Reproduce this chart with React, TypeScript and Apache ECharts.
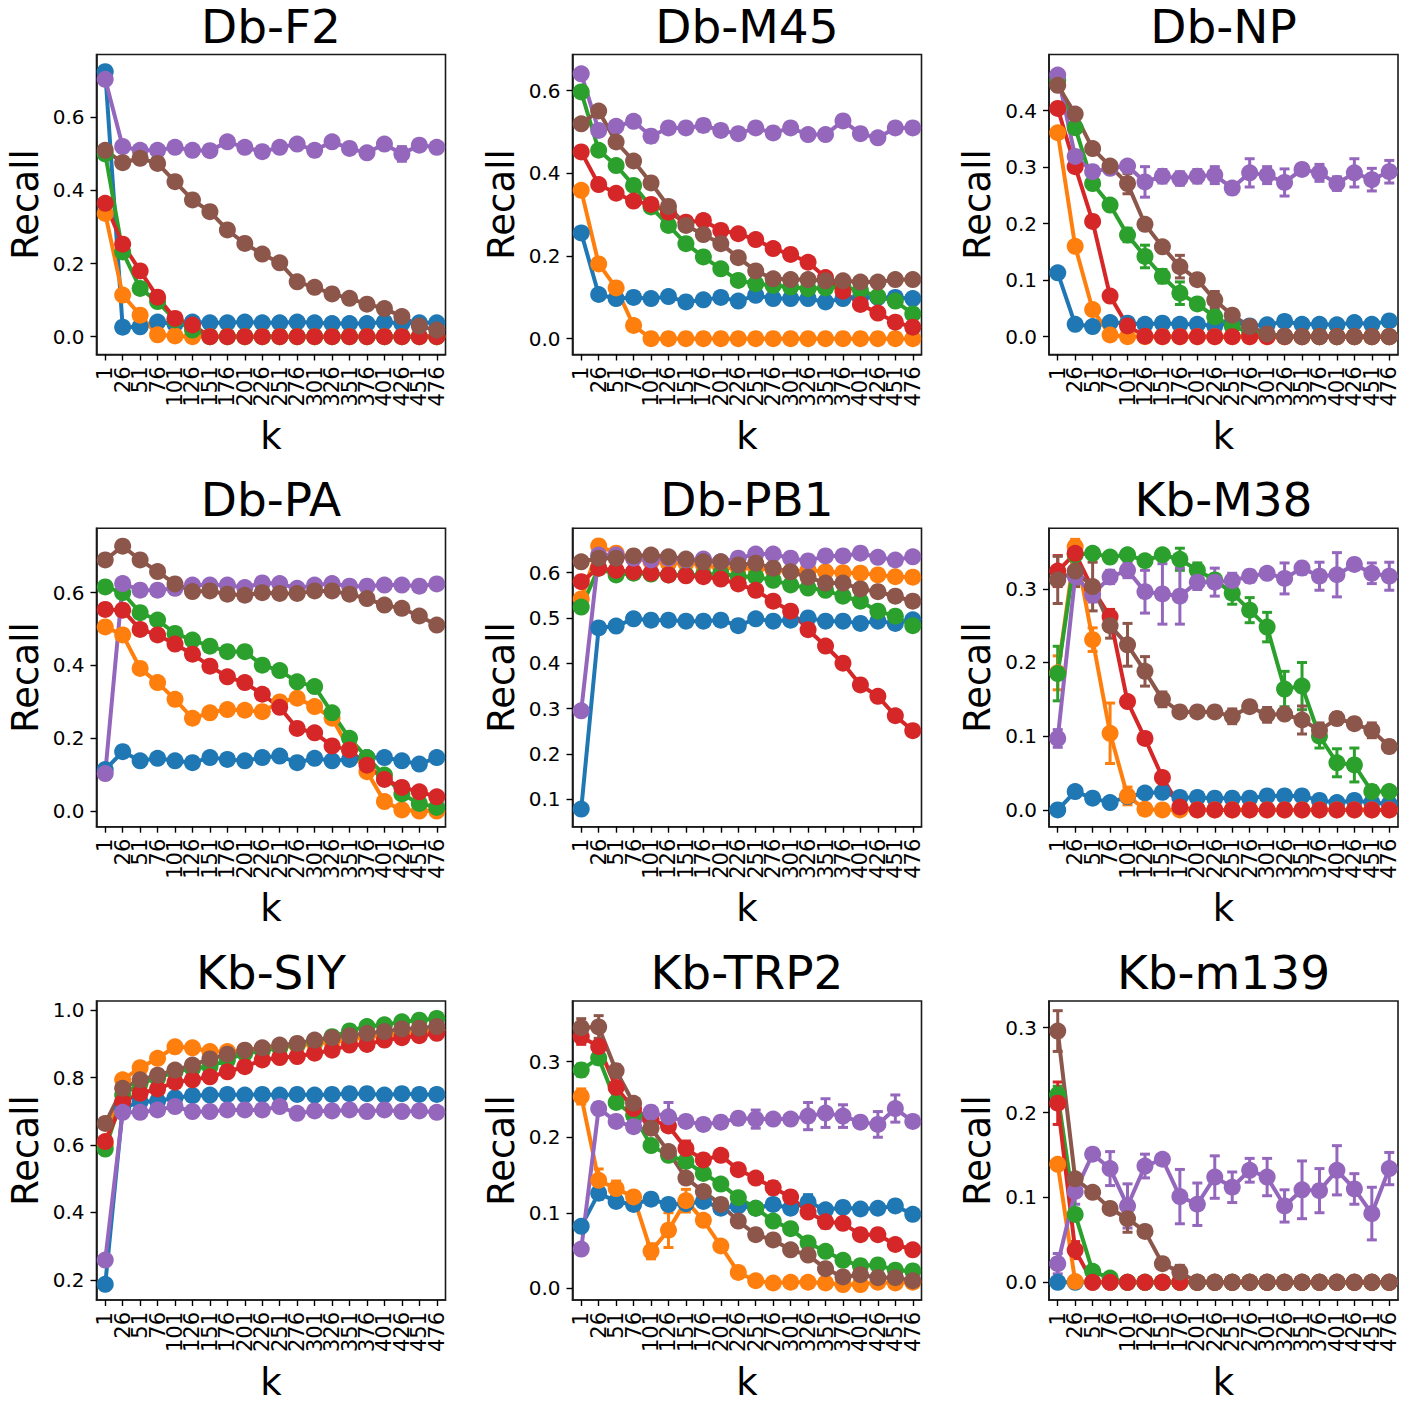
import React, { useEffect, useRef } from 'react';
import * as echarts from 'echarts';

const kValues = ['1', '26', '51', '76', '101', '126', '151', '176', '201', '226', '251', '276', '301', '326', '351', '376', '401', '426', '451', '476'];
const seriesColors = ['#1f77b4', '#ff7f0e', '#2ca02c', '#d62728', '#9467bd', '#8c564b'];
const panelTitles = ['Db-F2', 'Db-M45', 'Db-NP', 'Db-PA', 'Db-PB1', 'Kb-M38', 'Kb-SIY', 'Kb-TRP2', 'Kb-m139'];

// order of rows: blue, orange, green, red, purple, brown
const dbF2 = [
  [0.725, 0.026, 0.027, 0.04, 0.035, 0.04, 0.038, 0.038, 0.04, 0.038, 0.038, 0.04, 0.038, 0.036, 0.036, 0.036, 0.04, 0.036, 0.038, 0.038],
  [0.337, 0.114, 0.059, 0.005, 0.002, 0, 0, 0, 0, 0, 0, 0, 0, 0, 0, 0, 0, 0, 0, 0],
  [0.5, 0.232, 0.132, 0.096, 0.046, 0.018, 0, 0, 0, 0, 0, 0, 0, 0, 0, 0, 0, 0, 0, 0],
  [0.365, 0.253, 0.18, 0.108, 0.05, 0.032, 0, 0, 0, 0, 0, 0, 0, 0, 0, 0, 0, 0, 0, 0],
  [0.704, 0.52, 0.51, 0.51, 0.518, 0.51, 0.509, 0.533, 0.518, 0.506, 0.518, 0.527, 0.51, 0.533, 0.515, 0.503, 0.527, 0.5, 0.524, 0.518],
  [0.51, 0.476, 0.488, 0.474, 0.424, 0.374, 0.342, 0.292, 0.255, 0.226, 0.202, 0.15, 0.135, 0.117, 0.105, 0.089, 0.077, 0.055, 0.029, 0.018],
];
const dbM45 = [
  [0.256, 0.107, 0.097, 0.1, 0.097, 0.102, 0.089, 0.094, 0.1, 0.091, 0.105, 0.097, 0.097, 0.097, 0.089, 0.097, 0.1, 0.1, 0.1, 0.097],
  [0.359, 0.181, 0.123, 0.032, 0, 0, 0, 0, 0, 0, 0, 0, 0, 0, 0, 0, 0, 0, 0, 0],
  [0.597, 0.456, 0.419, 0.371, 0.319, 0.274, 0.23, 0.198, 0.169, 0.141, 0.133, 0.129, 0.125, 0.121, 0.123, 0.125, 0.117, 0.102, 0.091, 0.06],
  [0.452, 0.373, 0.352, 0.333, 0.325, 0.306, 0.282, 0.286, 0.262, 0.254, 0.24, 0.218, 0.204, 0.185, 0.148, 0.115, 0.083, 0.062, 0.04, 0.028],
  [0.641, 0.504, 0.514, 0.526, 0.49, 0.51, 0.51, 0.516, 0.504, 0.496, 0.51, 0.498, 0.51, 0.494, 0.494, 0.527, 0.496, 0.486, 0.51, 0.51],
  [0.52, 0.551, 0.476, 0.43, 0.377, 0.32, 0.274, 0.252, 0.23, 0.196, 0.164, 0.145, 0.143, 0.143, 0.14, 0.14, 0.137, 0.137, 0.143, 0.143],
];
const dbNP = [
  [0.113, 0.022, 0.018, 0.025, 0.024, 0.022, 0.024, 0.022, 0.022, 0.019, 0.025, 0.019, 0.021, 0.027, 0.022, 0.022, 0.021, 0.025, 0.022, 0.028],
  [0.361, 0.16, 0.048, 0.003, 0, 0, 0, 0, 0, 0, 0, 0, 0, 0, 0, 0, 0, 0, 0, 0],
  [0.454, 0.37, 0.271, 0.233, 0.18, 0.142, 0.107, 0.077, 0.058, 0.035, 0.019, 0.007, 0.002, 0, 0, 0, 0, 0, 0, 0],
  [0.404, 0.301, 0.204, 0.072, 0.019, 0.001, 0, 0, 0, 0, 0, 0, 0, 0, 0, 0, 0, 0, 0, 0],
  [0.463, 0.319, 0.292, 0.298, 0.302, 0.274, 0.284, 0.28, 0.284, 0.286, 0.263, 0.29, 0.286, 0.273, 0.296, 0.29, 0.271, 0.29, 0.278, 0.292],
  [0.445, 0.394, 0.333, 0.302, 0.271, 0.199, 0.159, 0.124, 0.101, 0.065, 0.038, 0.018, 0.005, 0.001, 0, 0, 0, 0, 0, 0],
];
const dbPA = [
  [0.114, 0.163, 0.138, 0.145, 0.138, 0.133, 0.147, 0.142, 0.138, 0.147, 0.151, 0.133, 0.145, 0.138, 0.142, 0.147, 0.147, 0.138, 0.129, 0.147],
  [0.506, 0.484, 0.392, 0.353, 0.307, 0.255, 0.27, 0.279, 0.277, 0.273, 0.3, 0.31, 0.287, 0.255, 0.17, 0.108, 0.026, 0.003, 0, 0],
  [0.616, 0.6, 0.545, 0.525, 0.488, 0.47, 0.453, 0.438, 0.438, 0.401, 0.386, 0.355, 0.342, 0.27, 0.2, 0.147, 0.099, 0.047, 0.021, 0.01],
  [0.554, 0.552, 0.499, 0.484, 0.459, 0.431, 0.398, 0.369, 0.353, 0.321, 0.285, 0.227, 0.215, 0.179, 0.168, 0.126, 0.087, 0.065, 0.053, 0.039],
  [0.103, 0.625, 0.607, 0.607, 0.612, 0.621, 0.621, 0.621, 0.614, 0.627, 0.625, 0.612, 0.621, 0.625, 0.618, 0.618, 0.621, 0.621, 0.618, 0.624],
  [0.69, 0.728, 0.69, 0.658, 0.624, 0.603, 0.605, 0.596, 0.593, 0.6, 0.598, 0.598, 0.605, 0.605, 0.596, 0.584, 0.566, 0.557, 0.536, 0.511],
];
const dbPB1 = [
  [0.078, 0.478, 0.482, 0.498, 0.495, 0.495, 0.493, 0.493, 0.495, 0.483, 0.498, 0.493, 0.495, 0.5, 0.493, 0.493, 0.488, 0.493, 0.488, 0.496],
  [0.542, 0.659, 0.643, 0.632, 0.624, 0.621, 0.621, 0.617, 0.61, 0.61, 0.61, 0.606, 0.602, 0.606, 0.602, 0.6, 0.599, 0.595, 0.591, 0.59],
  [0.524, 0.61, 0.595, 0.599, 0.597, 0.595, 0.595, 0.595, 0.599, 0.591, 0.591, 0.583, 0.573, 0.566, 0.561, 0.548, 0.537, 0.515, 0.504, 0.483],
  [0.58, 0.61, 0.605, 0.602, 0.599, 0.595, 0.593, 0.591, 0.586, 0.575, 0.561, 0.537, 0.515, 0.474, 0.438, 0.4, 0.352, 0.327, 0.284, 0.251],
  [0.295, 0.639, 0.639, 0.632, 0.628, 0.632, 0.628, 0.63, 0.624, 0.632, 0.641, 0.641, 0.632, 0.626, 0.637, 0.637, 0.643, 0.634, 0.628, 0.635],
  [0.624, 0.632, 0.632, 0.637, 0.639, 0.635, 0.63, 0.624, 0.624, 0.617, 0.621, 0.61, 0.602, 0.59, 0.577, 0.577, 0.564, 0.558, 0.548, 0.537],
];
const kbM38 = [
  [0, 0.025, 0.016, 0.01, 0.018, 0.023, 0.024, 0.017, 0.017, 0.016, 0.016, 0.016, 0.019, 0.019, 0.019, 0.013, 0.01, 0.013, 0.01, 0.008],
  [0.186, 0.357, 0.231, 0.104, 0.019, 0.001, 0, 0, 0, 0, 0, 0, 0, 0, 0, 0, 0, 0, 0, 0],
  [0.185, 0.346, 0.348, 0.343, 0.346, 0.338, 0.346, 0.34, 0.325, 0.312, 0.294, 0.271, 0.248, 0.164, 0.168, 0.1, 0.064, 0.061, 0.025, 0.025],
  [0.324, 0.348, 0.3, 0.262, 0.147, 0.097, 0.044, 0.004, 0, 0, 0, 0, 0, 0, 0, 0, 0, 0, 0, 0],
  [0.097, 0.317, 0.292, 0.316, 0.325, 0.296, 0.293, 0.29, 0.309, 0.309, 0.311, 0.317, 0.321, 0.314, 0.328, 0.317, 0.319, 0.333, 0.321, 0.317],
  [0.312, 0.324, 0.303, 0.25, 0.224, 0.188, 0.15, 0.133, 0.133, 0.133, 0.127, 0.14, 0.129, 0.13, 0.122, 0.108, 0.124, 0.117, 0.108, 0.086],
];
const kbSIY = [
  [0.187, 0.709, 0.728, 0.73, 0.74, 0.746, 0.748, 0.75, 0.748, 0.75, 0.748, 0.75, 0.748, 0.75, 0.752, 0.752, 0.748, 0.752, 0.75, 0.75],
  [0.6, 0.793, 0.829, 0.857, 0.891, 0.888, 0.877, 0.877, 0.88, 0.885, 0.89, 0.895, 0.9, 0.905, 0.912, 0.92, 0.925, 0.93, 0.935, 0.94],
  [0.588, 0.748, 0.783, 0.798, 0.817, 0.827, 0.832, 0.852, 0.872, 0.879, 0.888, 0.898, 0.908, 0.921, 0.938, 0.951, 0.956, 0.965, 0.97, 0.975],
  [0.61, 0.728, 0.753, 0.766, 0.786, 0.793, 0.802, 0.817, 0.832, 0.852, 0.859, 0.862, 0.872, 0.881, 0.896, 0.898, 0.911, 0.918, 0.924, 0.931],
  [0.259, 0.697, 0.697, 0.704, 0.714, 0.699, 0.699, 0.704, 0.704, 0.704, 0.714, 0.694, 0.701, 0.701, 0.704, 0.699, 0.704, 0.699, 0.701, 0.697],
  [0.664, 0.768, 0.793, 0.807, 0.822, 0.837, 0.855, 0.869, 0.881, 0.888, 0.896, 0.901, 0.911, 0.918, 0.924, 0.931, 0.936, 0.944, 0.946, 0.951],
];
const kbTRP2 = [
  [0.082, 0.126, 0.115, 0.111, 0.118, 0.111, 0.112, 0.115, 0.106, 0.109, 0.106, 0.111, 0.106, 0.114, 0.104, 0.107, 0.105, 0.106, 0.109, 0.098],
  [0.254, 0.143, 0.132, 0.121, 0.049, 0.077, 0.116, 0.09, 0.056, 0.021, 0.01, 0.007, 0.008, 0.008, 0.007, 0.005, 0.005, 0.008, 0.007, 0.008],
  [0.289, 0.305, 0.246, 0.229, 0.189, 0.176, 0.168, 0.152, 0.138, 0.12, 0.106, 0.089, 0.079, 0.06, 0.049, 0.037, 0.03, 0.031, 0.024, 0.023],
  [0.333, 0.32, 0.266, 0.238, 0.223, 0.215, 0.185, 0.17, 0.176, 0.157, 0.146, 0.133, 0.121, 0.101, 0.088, 0.086, 0.071, 0.071, 0.058, 0.051],
  [0.052, 0.238, 0.221, 0.214, 0.233, 0.227, 0.221, 0.217, 0.22, 0.225, 0.224, 0.224, 0.224, 0.228, 0.232, 0.228, 0.22, 0.217, 0.238, 0.221],
  [0.345, 0.346, 0.288, 0.245, 0.212, 0.181, 0.146, 0.128, 0.111, 0.089, 0.071, 0.064, 0.051, 0.044, 0.026, 0.015, 0.018, 0.014, 0.014, 0.01],
];
const kbM139 = [
  [0, 0, 0, 0, 0, 0, 0, 0, 0, 0, 0, 0, 0, 0, 0, 0, 0, 0, 0, 0],
  [0.139, 0.001, 0, 0, 0, 0, 0, 0, 0, 0, 0, 0, 0, 0, 0, 0, 0, 0, 0, 0],
  [0.221, 0.08, 0.013, 0.005, 0, 0, 0, 0, 0, 0, 0, 0, 0, 0, 0, 0, 0, 0, 0, 0],
  [0.211, 0.038, 0, 0, 0, 0, 0, 0, 0, 0, 0, 0, 0, 0, 0, 0, 0, 0, 0, 0],
  [0.022, 0.107, 0.151, 0.134, 0.09, 0.137, 0.145, 0.101, 0.092, 0.124, 0.112, 0.132, 0.124, 0.09, 0.109, 0.108, 0.132, 0.11, 0.081, 0.134],
  [0.296, 0.122, 0.106, 0.087, 0.075, 0.06, 0.022, 0.012, 0, 0, 0, 0, 0, 0, 0, 0, 0, 0, 0, 0],
];

// error bar half-lengths (null = none visible)
const dbF2Err = [
  null, null, null, null,
  [0, 0, 0.008, 0, 0, 0, 0, 0.012, 0, 0.01, 0, 0.008, 0.015, 0.01, 0.012, 0, 0.012, 0.02, 0, 0.006],
  [0, 0, 0, 0, 0, 0, 0, 0, 0.014, 0, 0, 0, 0, 0, 0, 0, 0, 0, 0, 0],
];
const dbM45Err = [
  null, null, null, null,
  [0, 0, 0, 0, 0.014, 0.012, 0.01, 0.014, 0.012, 0, 0, 0, 0.008, 0, 0, 0.01, 0.01, 0, 0.008, 0.008],
  null,
];
const dbNPErr = [
  null, null,
  [0, 0, 0.01, 0, 0.012, 0.02, 0.012, 0.02, 0, 0.01, 0, 0, 0, 0, 0, 0, 0, 0, 0, 0],
  null,
  [0, 0.01, 0, 0, 0, 0.027, 0.012, 0.012, 0.012, 0.015, 0.01, 0.025, 0.015, 0.024, 0.008, 0.015, 0.012, 0.025, 0.02, 0.02],
  [0, 0, 0, 0, 0.018, 0, 0, 0.02, 0, 0.015, 0, 0, 0, 0, 0, 0, 0, 0, 0, 0],
];
const kbM38Err = [
  null,
  [0.023, 0.01, 0.016, 0.041, 0.012, 0, 0, 0, 0, 0, 0, 0, 0, 0, 0, 0, 0, 0, 0, 0],
  [0.037, 0.01, 0, 0, 0, 0, 0, 0.015, 0.01, 0, 0.015, 0.017, 0.02, 0.024, 0.032, 0.016, 0.019, 0.023, 0.008, 0.005],
  [0.021, 0.01, 0, 0.01, 0, 0, 0, 0, 0, 0, 0, 0, 0, 0, 0, 0, 0, 0, 0, 0],
  [0.012, 0.01, 0.01, 0.009, 0.01, 0.029, 0.041, 0.038, 0.01, 0.019, 0.01, 0.008, 0.005, 0.021, 0.008, 0.019, 0.03, 0.005, 0.014, 0.019],
  [0.032, 0.021, 0.033, 0.017, 0.029, 0.02, 0.01, 0, 0, 0, 0.01, 0, 0.01, 0, 0.019, 0.01, 0.008, 0, 0.01, 0.008],
];
const kbTRP2Err = [
  [0, 0.008, 0, 0, 0, 0, 0, 0, 0, 0, 0, 0, 0, 0.01, 0, 0, 0, 0, 0, 0],
  [0.01, 0.015, 0.01, 0, 0.01, 0.023, 0.015, 0, 0, 0, 0, 0, 0, 0, 0, 0, 0, 0, 0, 0],
  [0.008, 0.008, 0, 0, 0, 0, 0, 0, 0, 0, 0, 0, 0, 0, 0, 0, 0, 0, 0, 0],
  [0.01, 0, 0, 0, 0, 0, 0.01, 0, 0, 0, 0, 0.008, 0, 0, 0.008, 0, 0, 0, 0, 0],
  [0, 0.008, 0, 0, 0.008, 0.019, 0, 0, 0, 0.008, 0.012, 0, 0, 0.018, 0.019, 0.015, 0, 0.017, 0.018, 0],
  [0.012, 0.015, 0.008, 0, 0, 0, 0, 0, 0, 0, 0, 0, 0, 0, 0, 0, 0, 0, 0, 0],
];
const kbM139Err = [
  null, null,
  [0.01, 0, 0, 0, 0, 0, 0, 0, 0, 0, 0, 0, 0, 0, 0, 0, 0, 0, 0, 0],
  [0.025, 0.01, 0, 0, 0, 0, 0, 0, 0, 0, 0, 0, 0, 0, 0, 0, 0, 0, 0, 0],
  [0.012, 0.015, 0, 0.02, 0.026, 0.014, 0, 0.032, 0.025, 0.025, 0.018, 0.014, 0.022, 0.019, 0.034, 0.026, 0.029, 0.018, 0.031, 0.019],
  [0.024, 0, 0, 0, 0.016, 0.005, 0, 0.008, 0, 0, 0, 0, 0, 0, 0, 0, 0, 0, 0, 0],
];

const panelValues = [dbF2, dbM45, dbNP, dbPA, dbPB1, kbM38, kbSIY, kbTRP2, kbM139];
const panelErrors = [dbF2Err, dbM45Err, dbNPErr, null, null, kbM38Err, null, kbTRP2Err, kbM139Err];
const yRanges = [
  [-0.0487, 0.772], [-0.0382, 0.6877], [-0.0315, 0.4995],
  [-0.043, 0.777], [0.039, 0.698], [-0.0227, 0.382],
  [0.1407, 1.0267], [-0.0155, 0.3804], [-0.0208, 0.3314],
];
const yTicks = [
  [0, 0.2, 0.4, 0.6], [0, 0.2, 0.4, 0.6], [0, 0.1, 0.2, 0.3, 0.4],
  [0, 0.2, 0.4, 0.6], [0.1, 0.2, 0.3, 0.4, 0.5, 0.6], [0, 0.1, 0.2, 0.3],
  [0.2, 0.4, 0.6, 0.8, 1.0], [0, 0.1, 0.2, 0.3], [0, 0.1, 0.2, 0.3],
];

const FONT = '"DejaVu Sans", sans-serif';
const colLeft = [96.5, 572.5, 1049];
const rowTop = [54.5, 528.3, 1001];
const rowHeight = [300, 298.4, 299];
const gridWidth = 349;
const frame = { color: '#1a1a1a', width: 1.6 };

export default function App() {
  const ref = useRef<HTMLDivElement>(null);
  useEffect(() => {
    if (!ref.current) return;
    const chart = echarts.init(ref.current, undefined, { renderer: 'svg' });
    const grids: any[] = [];
    const xAxes: any[] = [];
    const yAxes: any[] = [];
    const series: any[] = [];
    const graphics: any[] = [];
    panelTitles.forEach((title, i) => {
      const col = i % 3;
      const row = Math.floor(i / 3);
      const left = colLeft[col];
      const top = rowTop[row];
      const h = rowHeight[row];
      grids.push({ left, top, width: gridWidth, height: h, show: true, borderColor: frame.color, borderWidth: frame.width, backgroundColor: 'transparent', containLabel: false });
      xAxes.push({
        gridIndex: i, type: 'category', data: kValues, boundaryGap: true, position: 'bottom',
        axisLine: { show: true, onZero: false, lineStyle: { color: frame.color, width: frame.width } },
        axisTick: { show: true, inside: false, alignWithLabel: true, interval: 0, length: 6, lineStyle: { color: '#000', width: 1.4 } },
        axisLabel: { interval: 0, rotate: 90, fontSize: 21, fontFamily: FONT, color: '#000', margin: 12, hideOverlap: false },
        splitLine: { show: false },
      });
      const ticks = yTicks[i];
      yAxes.push({
        gridIndex: i, type: 'value', min: yRanges[i][0], max: yRanges[i][1], position: 'left',
        axisLine: { show: true, onZero: false, lineStyle: { color: frame.color, width: frame.width } },
        splitLine: { show: false },
        axisTick: { show: true, inside: false, length: 6, customValues: ticks, lineStyle: { color: '#000', width: 1.4 } },
        axisLabel: { customValues: ticks, formatter: (v: number) => v.toFixed(1), fontSize: 20, fontFamily: FONT, color: '#000', margin: 12 },
      });
      const vals = panelValues[i];
      const errs = panelErrors[i];
      vals.forEach((arr, s) => {
        const color = seriesColors[s];
        const err = errs ? errs[s] : null;
        if (err) {
          series.push({
            type: 'custom', xAxisIndex: i, yAxisIndex: i, silent: true,
            data: arr.map((v, j) => [j, v, err[j]]),
            encode: { x: 0, y: 1 },
            renderItem: (params: any, api: any) => {
              const x = api.value(0);
              const y = api.value(1);
              const e = api.value(2);
              if (!e) return null;
              const p1 = api.coord([x, y + e]);
              const p2 = api.coord([x, y - e]);
              const cap = 5;
              const st = { stroke: color, lineWidth: 3 };
              return {
                type: 'group',
                children: [
                  { type: 'line', shape: { x1: p1[0], y1: p1[1], x2: p2[0], y2: p2[1] }, style: st },
                  { type: 'line', shape: { x1: p1[0] - cap, y1: p1[1], x2: p1[0] + cap, y2: p1[1] }, style: st },
                  { type: 'line', shape: { x1: p2[0] - cap, y1: p2[1], x2: p2[0] + cap, y2: p2[1] }, style: st },
                ],
              };
            },
          });
        }
        series.push({
          type: 'line', xAxisIndex: i, yAxisIndex: i, data: arr, silent: true,
          symbol: 'circle', symbolSize: 17, showSymbol: true, showAllSymbol: true,
          lineStyle: { width: 4, color }, itemStyle: { color },
          emphasis: { disabled: true },
        });
      });
      const cx = left + gridWidth / 2;
      graphics.push({ type: 'text', x: cx, y: top - 28.5, style: { text: title, font: `47px ${FONT}`, fill: '#000', align: 'center', verticalAlign: 'middle' } });
      graphics.push({ type: 'text', x: left - 71.5, y: top + h / 2, rotation: Math.PI / 2, style: { text: 'Recall', font: `37px ${FONT}`, fill: '#000', align: 'center', verticalAlign: 'middle' } });
      graphics.push({ type: 'text', x: cx, y: top + h + 82, style: { text: 'k', font: `37px ${FONT}`, fill: '#000', align: 'center', verticalAlign: 'middle' } });
    });
    chart.setOption({
      animation: false,
      backgroundColor: '#fff',
      grid: grids,
      xAxis: xAxes,
      yAxis: yAxes,
      series,
      graphic: graphics,
    });
    return () => chart.dispose();
  }, []);
  return <div ref={ref} style={{ position: 'absolute', left: 0, top: 0, width: 1413, height: 1402 }} />;
}
